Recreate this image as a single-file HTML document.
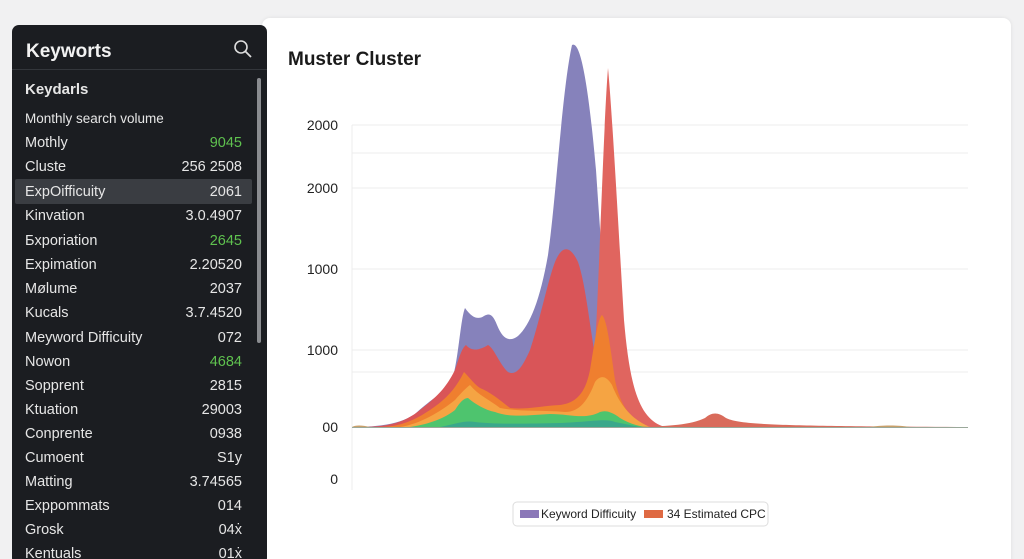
<!DOCTYPE html>
<html><head><meta charset="utf-8"><style>
*{margin:0;padding:0;box-sizing:border-box}
html,body{width:1024px;height:559px;overflow:hidden}
body{background:#f1f1f2;font-family:"Liberation Sans",sans-serif;position:relative}
.card{position:absolute;left:262px;top:18px;width:749px;height:560px;background:#fff;border-radius:8px;box-shadow:0 0 4px rgba(0,0,0,.08)}
.side{position:absolute;left:12px;top:25px;width:255px;height:540px;background:#1b1d21;border-radius:7px;color:#e6e6e6}
.side h1{position:absolute;left:14px;top:16px;font-size:19px;font-weight:bold;color:#f2f2f2}
.div{position:absolute;left:0;top:44px;width:255px;height:1px;background:#33363b}
.row{position:absolute;left:13px;width:217px;font-size:14.5px;display:flex;justify-content:space-between;height:20px;line-height:20px}
.g{color:#5fc24f}
.hl{position:absolute;left:3px;top:154px;width:237px;height:25px;background:#3a3d42;border-radius:2px}
.sb{position:absolute;left:245px;top:53px;width:4px;height:265px;background:#8a8c90;border-radius:2px}
</style></head><body>
<div class="card"></div>
<div class="side">
<h1>Keyworts</h1>
<svg style="position:absolute;left:221px;top:14px" width="20" height="20"><circle cx="8" cy="8" r="6" fill="none" stroke="#ddd" stroke-width="1.6"/><line x1="12.5" y1="12.5" x2="18" y2="18" stroke="#ddd" stroke-width="1.8"/></svg>
<div class="div"></div>
<div class="hl"></div>
<div class="sb"></div>
<div class="row" style="top:55px;font-weight:bold;font-size:15px"><span>Keydarls</span></div>
<div class="row" style="top:84px;font-size:13.5px"><span>Monthly search volume</span></div>
<div class="row" style="top:108px"><span>Mothly</span><span class="g">9045</span></div>
<div class="row" style="top:132px"><span>Cluste</span><span>256 2508</span></div>
<div class="row" style="top:157px"><span>ExpOifficuity</span><span>2061</span></div>
<div class="row" style="top:181px"><span>Kinvation</span><span>3.0.4907</span></div>
<div class="row" style="top:206px"><span>Бxporiation</span><span class="g">2645</span></div>
<div class="row" style="top:230px"><span>Expimation</span><span>2.20520</span></div>
<div class="row" style="top:254px"><span>Mølume</span><span>2037</span></div>
<div class="row" style="top:278px"><span>Kucals</span><span>3.7.4520</span></div>
<div class="row" style="top:303px"><span>Meyword Difficuity</span><span>072</span></div>
<div class="row" style="top:327px"><span>Nowon</span><span class="g">4684</span></div>
<div class="row" style="top:351px"><span>Sopprent</span><span>2815</span></div>
<div class="row" style="top:375px"><span>Ktuation</span><span>29003</span></div>
<div class="row" style="top:399px"><span>Conprente</span><span>0938</span></div>
<div class="row" style="top:423px"><span>Cumoent</span><span>S1y</span></div>
<div class="row" style="top:447px"><span>Matting</span><span>3.74565</span></div>
<div class="row" style="top:471px"><span>Exppommats</span><span>014</span></div>
<div class="row" style="top:495px"><span>Grosk</span><span>04ẋ</span></div>
<div class="row" style="top:519px"><span>Kentuals</span><span>01ẋ</span></div>
</div>
<svg style="position:absolute;left:0;top:0" width="1024" height="559">
<text x="288" y="65" font-size="19" font-weight="bold" fill="#1a1a1a" font-family="Liberation Sans">Muster Cluster</text>
<g stroke="#ececec" stroke-width="1">
<line x1="352" y1="125" x2="968" y2="125"/><line x1="352" y1="153" x2="968" y2="153"/>
<line x1="352" y1="188" x2="968" y2="188"/><line x1="352" y1="269" x2="968" y2="269"/>
<line x1="352" y1="350" x2="968" y2="350"/><line x1="352" y1="372" x2="968" y2="372"/>
<line x1="352" y1="125" x2="352" y2="490"/>
</g>
<g font-size="14" fill="#222" text-anchor="end" font-family="Liberation Sans">
<text x="338" y="130">2000</text><text x="338" y="193">2000</text>
<text x="338" y="274">1000</text><text x="338" y="355">1000</text>
<text x="338" y="432">00</text><text x="338" y="484">0</text>
</g>
<path fill="#8682bb" d="M352,427 C380,427 400,424 415,414 C430,400 440,395 450,385 C458,370 460,320 465,308 C472,318 478,320 484,316 C488,314 492,312 497,325 C503,340 510,342 518,336 C530,325 540,300 548,255 C556,200 562,90 572,45 C580,40 588,80 596,170 C600,230 605,300 610,350 L640,427 Z"/>
<path fill="#e0655f" d="M590,427 L596,330 C600,250 604,120 608,68 C612,110 618,220 624,320 C630,390 640,420 665,427 Z"/>
<path fill="#d95558" d="M360,427 C390,427 405,422 420,410 C435,398 445,390 455,370 C460,355 462,348 466,345 C472,352 480,350 488,345 C494,348 500,365 508,372 C516,376 522,368 530,350 C540,320 548,280 555,262 C562,245 570,245 578,262 C586,285 590,330 596,360 C600,380 606,400 615,410 L640,427 Z"/>
<path fill="#ef7f2f" d="M380,427 C400,427 415,420 430,410 C445,400 455,390 464,372 C470,378 475,385 480,388 C490,392 500,400 510,408 C525,410 540,406 560,405 C575,403 585,395 590,370 C595,340 598,318 602,315 C607,320 610,345 615,380 C620,405 630,420 650,427 Z"/>
<path fill="#f5a443" d="M400,427 C420,424 440,412 455,400 C462,392 466,388 470,385 C478,395 490,400 500,408 C520,412 540,410 565,412 C580,412 588,400 595,382 C600,375 606,375 612,385 C618,400 628,418 650,427 Z"/>
<path fill="#4ec46e" d="M410,427 C430,424 445,418 455,410 C460,402 464,398 468,398 C475,404 485,410 495,412 C510,418 530,415 550,414 C570,414 585,420 600,412 C606,410 612,412 620,418 C630,424 640,427 650,427 Z"/>
<path fill="#3aa88b" d="M440,427 C455,424 465,420 475,422 C490,424 520,424 560,423 C590,422 605,418 615,422 L640,427 Z"/>
<path fill="#d96b5b" d="M640,427 C670,426 690,425 705,418 C712,412 718,412 726,418 C740,425 780,426 968,427 Z"/>
<path fill="#c9a06a" d="M352,427 C355,425 362,425 370,427 Z M870,427 C880,425 900,425 910,427 Z"/>
<line x1="352" y1="427.5" x2="968" y2="427.5" stroke="#9aa89a" stroke-width="1"/>
<rect x="513" y="502" width="255" height="24" rx="4" fill="#fff" stroke="#ddd"/>
<rect x="520" y="510" width="19" height="8" fill="#8b78b8"/>
<text x="541" y="518" font-size="12" fill="#222" font-family="Liberation Sans">Keyword Difficuity</text>
<rect x="644" y="510" width="19" height="8" fill="#df6a43"/>
<text x="667" y="518" font-size="12" fill="#222" font-family="Liberation Sans">34 Estimated CPC</text>
</svg>
</body></html>
